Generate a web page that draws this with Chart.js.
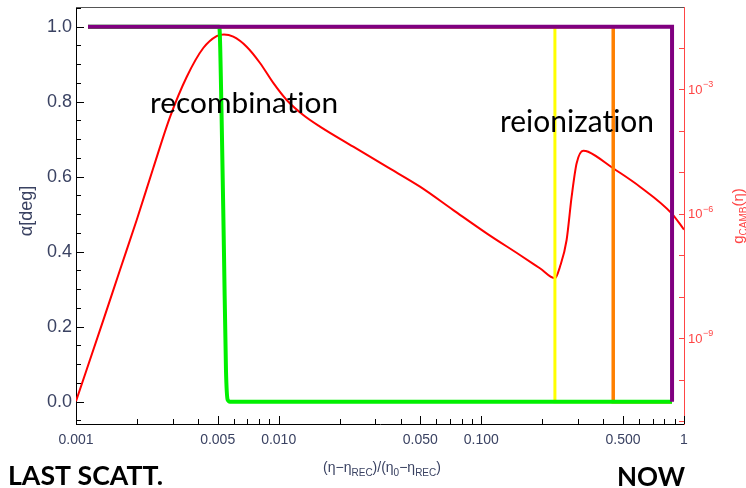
<!DOCTYPE html>
<html><head><meta charset="utf-8">
<script src="https://cdn.jsdelivr.net/npm/chart.js@4.4.1/dist/chart.umd.min.js"></script>
<style>html,body{margin:0;padding:0;background:#fff;}canvas{display:block;}</style>
</head><body>
<canvas id="c" width="746" height="488"></canvas>
<script>
// ---- axis ticks ----
const xTickValues = [0.001,0.002,0.003,0.004,0.005,0.006,0.007,0.008,0.009,
  0.01,0.02,0.03,0.04,0.05,0.06,0.07,0.08,0.09,
  0.1,0.2,0.3,0.4,0.5,0.6,0.7,0.8,0.9,1];
const xLabelValues = [0.001,0.005,0.01,0.05,0.1,0.5,1];
const xLabelTexts = ['0.001','0.005','0.010','0.050','0.100','0.500','1'];
const alphaTickValues = [0,0.2,0.4,0.6,0.8,1.0];
const alphaTickLabels = ['0.0','0.2','0.4','0.6','0.8','1.0'];
const gLabelExponents = [-3,-6,-9];
const gMinorExponents = [-11,-10,-9,-8,-7,-6,-5,-4,-3,-2];

// ---- rotation angle alpha [deg] for each case ----
const purpleX = [0.001146, 0.873, 0.873];
const purpleA = [1, 1, 0];
const greenX  = [0.001146, 0.00505, 0.005093, 0.005233, 0.005372, 0.005495, 0.005602, 0.00575, 0.873];
const greenA  = [1, 1, 1.0, 0.752, 0.397, 0.085, 0.005, 0, 0];
const orangeX = [0.001146, 0.4475, 0.4475, 0.873];
const orangeA = [1, 1, 0, 0];
const yellowX = [0.001146, 0.2307, 0.2307, 0.873];
const yellowA = [1, 1, 0, 0];

// ---- visibility function g_CAMB(eta) ----
const redX = [0.001, 0.001364, 0.001648, 0.001993, 0.002406, 0.002909, 0.003516, 0.004246, 0.004943,
  0.00537, 0.00597, 0.00695, 0.00809, 0.009406, 0.01095, 0.01322, 0.01599, 0.02334, 0.0341,
  0.0498, 0.0727, 0.1062, 0.155, 0.1945, 0.2307, 0.2443, 0.2635, 0.279, 0.2953, 0.3183,
  0.3368, 0.4475, 0.6058, 0.8687, 1.0];
const redG = [3.0e-11, 2.7e-9, 4.35e-8, 6.97e-7, 1.25e-5, 2.11e-4, 1.95e-3, 9.73e-3, 0.0189,
  0.0206, 0.0182, 0.01045, 4.24e-3, 1.40e-3, 5.43e-4, 2.36e-4, 1.24e-4, 4.07e-5, 1.34e-5,
  4.43e-6, 1.21e-6, 3.33e-7, 1.0e-7, 4.79e-8, 2.75e-8, 5.22e-8, 2.30e-7, 2.54e-6, 1.62e-5, 3.26e-5,
  3.08e-5, 1.23e-5, 4.43e-6, 1.01e-6, 4.1e-7];

const pts = (xs, ys) => xs.map((x, i) => ({x: x, y: ys[i]}));

const TICK_COLOR = '#3a4262';
const RED_AXIS = '#ff4545';

function line(ctx, x1, y1, x2, y2){ ctx.beginPath(); ctx.moveTo(x1,y1); ctx.lineTo(x2,y2); ctx.stroke(); }

function drawRich(ctx, segs, x, y, mainSize, subSize, family, color){
  let w = 0;
  segs.forEach(s => { ctx.font = (s.italic?'italic ':'') + (s.sub?subSize:mainSize) + 'px ' + family; s.w = ctx.measureText(s.t).width; w += s.w; });
  let cx = x - w/2;
  ctx.fillStyle = color; ctx.textAlign = 'left'; ctx.textBaseline = 'alphabetic';
  segs.forEach(s => {
    ctx.font = (s.italic?'italic ':'') + (s.sub?subSize:mainSize) + 'px ' + family;
    ctx.fillText(s.t, cx, y + (s.sub ? subSize*0.35 : 0));
    cx += s.w;
  });
}

function fitText(ctx, text, weight, family, targetW, x, y){
  ctx.font = weight + ' 100px ' + family;
  const fs = 100 * targetW / ctx.measureText(text).width;
  ctx.font = weight + ' ' + fs.toFixed(2) + 'px ' + family;
  ctx.textAlign = 'left'; ctx.textBaseline = 'alphabetic';
  ctx.fillText(text, x, y);
}

function noPad(s){ s.paddingTop = 0; s.paddingBottom = 0; s.paddingLeft = 0; s.paddingRight = 0; }

const decor = {
  id: 'decor',
  afterDraw(chart){
    const {ctx, chartArea: a, scales: {x, yL, yR}} = chart;
    ctx.save();
    ctx.lineWidth = 1;
    ctx.strokeStyle = '#555';
    line(ctx, a.left, a.top + 0.5, a.right, a.top + 0.5);
    ctx.strokeStyle = '#000';
    for (let k = -1; k <= 21; k++){
      const v = k * 0.05;
      const y = Math.round(yL.getPixelForValue(v)) + 0.5;
      const len = (k % 4 === 0) ? 8 : 5;
      line(ctx, a.left, y, a.left + len, y);
    }
    xTickValues.forEach(v => {
      const px = Math.round(x.getPixelForValue(v)) + 0.5;
      const len = xLabelValues.includes(v) ? 8 : 5;
      line(ctx, px, a.bottom, px, a.bottom - len);
    });
    ctx.strokeStyle = RED_AXIS;
    gMinorExponents.forEach(e => {
      const y = Math.round(yR.getPixelForValue(Math.pow(10, e))) + 0.5;
      line(ctx, a.right - 5, y, a.right, y);
    });
    gLabelExponents.forEach(e => {
      const y = yR.getPixelForValue(Math.pow(10, e));
      ctx.fillStyle = RED_AXIS;
      ctx.textAlign = 'left'; ctx.textBaseline = 'middle';
      ctx.font = '13px "Liberation Sans"';
      ctx.fillText('10', a.right + 4, y + 1);
      const w = ctx.measureText('10').width;
      ctx.font = '9px "Liberation Sans"';
      ctx.fillText('\u2212' + Math.abs(e), a.right + 4 + w + 0.5, y - 4);
    });
    ctx.save();
    ctx.translate(27, 211);
    ctx.rotate(-Math.PI/2);
    ctx.fillStyle = TICK_COLOR;
    ctx.font = '18px "Liberation Sans"';
    ctx.textAlign = 'center'; ctx.textBaseline = 'middle';
    ctx.fillText('\u03b1[deg]', 0, 0);
    ctx.restore();
    ctx.save();
    ctx.translate(743, 216);
    ctx.rotate(-Math.PI/2);
    drawRich(ctx, [{t:'g'}, {t:'CAMB', sub:true}, {t:'(\u03b7)'}], 0, 0, 15, 10, '"Liberation Sans"', RED_AXIS);
    ctx.restore();
    drawRich(ctx, [{t:'(\u03b7\u2212\u03b7'}, {t:'REC', sub:true}, {t:')/(\u03b7'}, {t:'0', sub:true},
      {t:'\u2212\u03b7'}, {t:'REC', sub:true}, {t:')'}], 382, 472, 14, 10, '"Liberation Sans"', TICK_COLOR);
    ctx.fillStyle = '#000';
    try { ctx.textRendering = 'optimizeSpeed'; } catch(e) {}
    try { ctx.letterSpacing = '0.01px'; } catch(e) {}
    fitText(ctx, 'recombination', '400', 'Lato', 188, 150, 113);
    fitText(ctx, 'reionization', '400', 'Lato', 154, 500, 132);
    fitText(ctx, 'LAST SCATT.', '700', 'Lato', 155, 8, 485);
    fitText(ctx, 'NOW', '700', 'Lato', 68, 617, 486);
    ctx.restore();
  }
};

new Chart(document.getElementById('c').getContext('2d'), {
  type: 'line',
  data: {
    datasets: [
      {data: pts(purpleX, purpleA), yAxisID: 'yL', borderColor: '#800080', borderWidth: 4},
      {data: pts(greenX, greenA), yAxisID: 'yL', borderColor: '#00f000', borderWidth: 4, cubicInterpolationMode: 'monotone'},
      {data: pts(orangeX, orangeA), yAxisID: 'yL', borderColor: '#ff8000', borderWidth: 3.5},
      {data: pts(yellowX, yellowA), yAxisID: 'yL', borderColor: '#ffff00', borderWidth: 3},
      {data: pts(redX, redG), yAxisID: 'yR', borderColor: '#ff0000', borderWidth: 2, cubicInterpolationMode: 'monotone'}
    ]
  },
  options: {
    responsive: false,
    animation: false,
    devicePixelRatio: 1,
    layout: {padding: {top: 7, left: 0, right: 0, bottom: 0}},
    plugins: {legend: {display: false}, tooltip: {enabled: false}},
    elements: {point: {radius: 0}, line: {tension: 0, borderJoinStyle: 'miter'}},
    scales: {
      x: {
        type: 'logarithmic', position: 'bottom', min: 0.001, max: 1, bounds: 'data',
        afterBuildTicks(s){ s.ticks = xLabelValues.map(v => ({value: v})); },
        afterFit(s){ s.height = 64; noPad(s); },
        ticks: {autoSkip: false, maxRotation: 0, minRotation: 0, padding: 8, color: TICK_COLOR,
          font: {family: '"Liberation Sans"', size: 14},
          callback: (v, i) => xLabelTexts[i]},
        grid: {drawOnChartArea: false, drawTicks: false},
        border: {color: '#000', width: 1}
      },
      yL: {
        type: 'linear', position: 'left', min: -0.0595, max: 1.0525, bounds: 'data',
        afterBuildTicks(s){ s.ticks = alphaTickValues.map(v => ({value: v})); },
        afterFit(s){ s.width = 76; noPad(s); },
        ticks: {autoSkip: false, padding: 4, color: TICK_COLOR,
          font: {family: '"Liberation Sans"', size: 18},
          callback: (v, i) => alphaTickLabels[i]},
        grid: {drawOnChartArea: false, drawTicks: false},
        border: {color: '#000', width: 1}
      },
      yR: {
        type: 'logarithmic', position: 'right', min: Math.pow(10, -11.072), max: Math.pow(10, -1.024), bounds: 'data',
        afterFit(s){ s.width = 62; noPad(s); },
        ticks: {display: false},
        grid: {drawOnChartArea: false, drawTicks: false},
        border: {color: RED_AXIS, width: 1}
      }
    }
  },
  plugins: [decor]
});
</script>
</body></html>
